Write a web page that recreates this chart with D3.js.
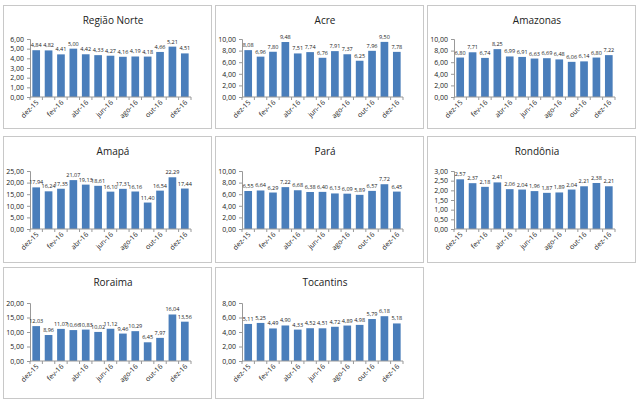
<!DOCTYPE html>
<html><head><meta charset="utf-8">
<script src="https://cdn.jsdelivr.net/npm/d3@7"></script>
<style>body{margin:0;background:#fff}svg{font-family:"Open Sans",Arial,sans-serif}</style>
</head><body><svg id="chart" width="640" height="403"></svg>
<script>
const months = ["dez-15","jan-16","fev-16","mar-16","abr-16","mai-16","jun-16","jul-16","ago-16","set-16","out-16","nov-16","dez-16"];
const shownMonths = ["dez-15","fev-16","abr-16","jun-16","ago-16","out-16","dez-16"];

const regiaoNorte = [4.84,4.82,4.41,5.00,4.42,4.33,4.27,4.16,4.19,4.18,4.66,5.21,4.51];
const acre = [8.08,6.96,7.80,9.48,7.51,7.74,6.76,7.91,7.37,6.25,7.96,9.50,7.78];
const amazonas = [6.80,7.71,6.74,8.25,6.99,6.91,6.63,6.69,6.48,6.06,6.14,6.80,7.22];
const amapa = [17.94,16.24,17.35,21.07,19.13,18.61,16.10,17.31,16.16,11.40,16.54,22.29,17.44];
const para = [6.55,6.64,6.29,7.22,6.68,6.38,6.40,6.13,6.09,5.89,6.57,7.72,6.45];
const rondonia = [2.57,2.37,2.18,2.41,2.06,2.04,1.96,1.87,1.89,2.04,2.21,2.38,2.21];
const roraima = [12.03,8.96,11.07,10.66,10.83,10.02,11.12,9.46,10.29,6.45,7.97,16.04,13.56];
const tocantins = [5.11,5.25,4.49,4.90,4.33,4.52,4.51,4.72,4.89,4.98,5.79,6.18,5.18];

const panels = [
  {title:"Região Norte", values:regiaoNorte, max:6, step:1},
  {title:"Acre", values:acre, max:10, step:2},
  {title:"Amazonas", values:amazonas, max:10, step:2},
  {title:"Amapá", values:amapa, max:25, step:5},
  {title:"Pará", values:para, max:10, step:2},
  {title:"Rondônia", values:rondonia, max:3, step:0.5},
  {title:"Roraima", values:roraima, max:20, step:5},
  {title:"Tocantins", values:tocantins, max:8, step:2}
];

const svg = d3.select("#chart");
const colX = [3, 215, 427];
const rowY = [5, 136, 267];
const boxW = 208, boxH = [123, 126, 131];
const fmt = v => d3.format(".2f")(v).replace(".", ",");

panels.forEach((p, i) => {
  const col = i % 3, row = Math.floor(i / 3);
  const g = svg.append("g").attr("transform", `translate(${colX[col]},${rowY[row]})`);
  g.append("rect").attr("x",0.5).attr("y",0.5).attr("width",boxW).attr("height",boxH[row])
    .attr("fill","#fff").attr("stroke","#c8c8c8");
  g.append("text").attr("x", boxW/2 + 6).attr("y", 19).attr("text-anchor","middle")
    .style("font-size","10px").attr("fill","#222").text(p.title);

  const top = 34 + row, ph = 58;
  const x = d3.scaleBand().domain(months).range([27, 188]).paddingInner(0.38).paddingOuter(0.19);
  const y = d3.scaleLinear().domain([0, p.max]).range([top + ph, top]);

  const ticks = d3.range(0, p.max + p.step/2, p.step);
  const yAx = g.append("g").attr("transform","translate(27,0)")
    .call(d3.axisLeft(y).tickValues(ticks).tickFormat(fmt).tickSize(3));
  yAx.select(".domain").attr("stroke","#999");
  yAx.selectAll(".tick line").attr("stroke","#999");
  yAx.selectAll("text").style("font-size","7px").attr("fill","#222").attr("font-family","Open Sans, Arial");

  g.selectAll(".bar").data(p.values).enter().append("rect")
    .attr("x",(d,j)=>x(months[j])).attr("y",d=>y(d))
    .attr("width",x.bandwidth()).attr("height",d=>y(0)-y(d)).attr("fill","#4a7ebb");

  g.selectAll(".lbl").data(p.values).enter().append("text")
    .attr("x",(d,j)=>x(months[j]) + x.bandwidth()/2).attr("y",d=>y(d)-3)
    .attr("text-anchor","middle").style("font-size","5.5px").attr("fill","#222").text(fmt);

  // x axis with tick marks between categories
  const step = x.step();
  const start = x(months[0]) - step * 0.19;
  g.append("line").attr("x1",27).attr("x2",188).attr("y1",y(0)).attr("y2",y(0)).attr("stroke","#999");
  g.selectAll(".xt").data(d3.range(months.length + 1)).enter().append("line")
    .attr("x1",j=>start + j*step).attr("x2",j=>start + j*step)
    .attr("y1",y(0)).attr("y2",y(0)+3).attr("stroke","#999");
  g.selectAll(".xl").data(shownMonths).enter().append("text")
    .attr("transform",m=>`translate(${x(m)+x.bandwidth()/2+3},${y(0)+6}) rotate(-45)`)
    .attr("text-anchor","end").style("font-size","7px").attr("fill","#222").text(m => m);
});
</script></body></html>
